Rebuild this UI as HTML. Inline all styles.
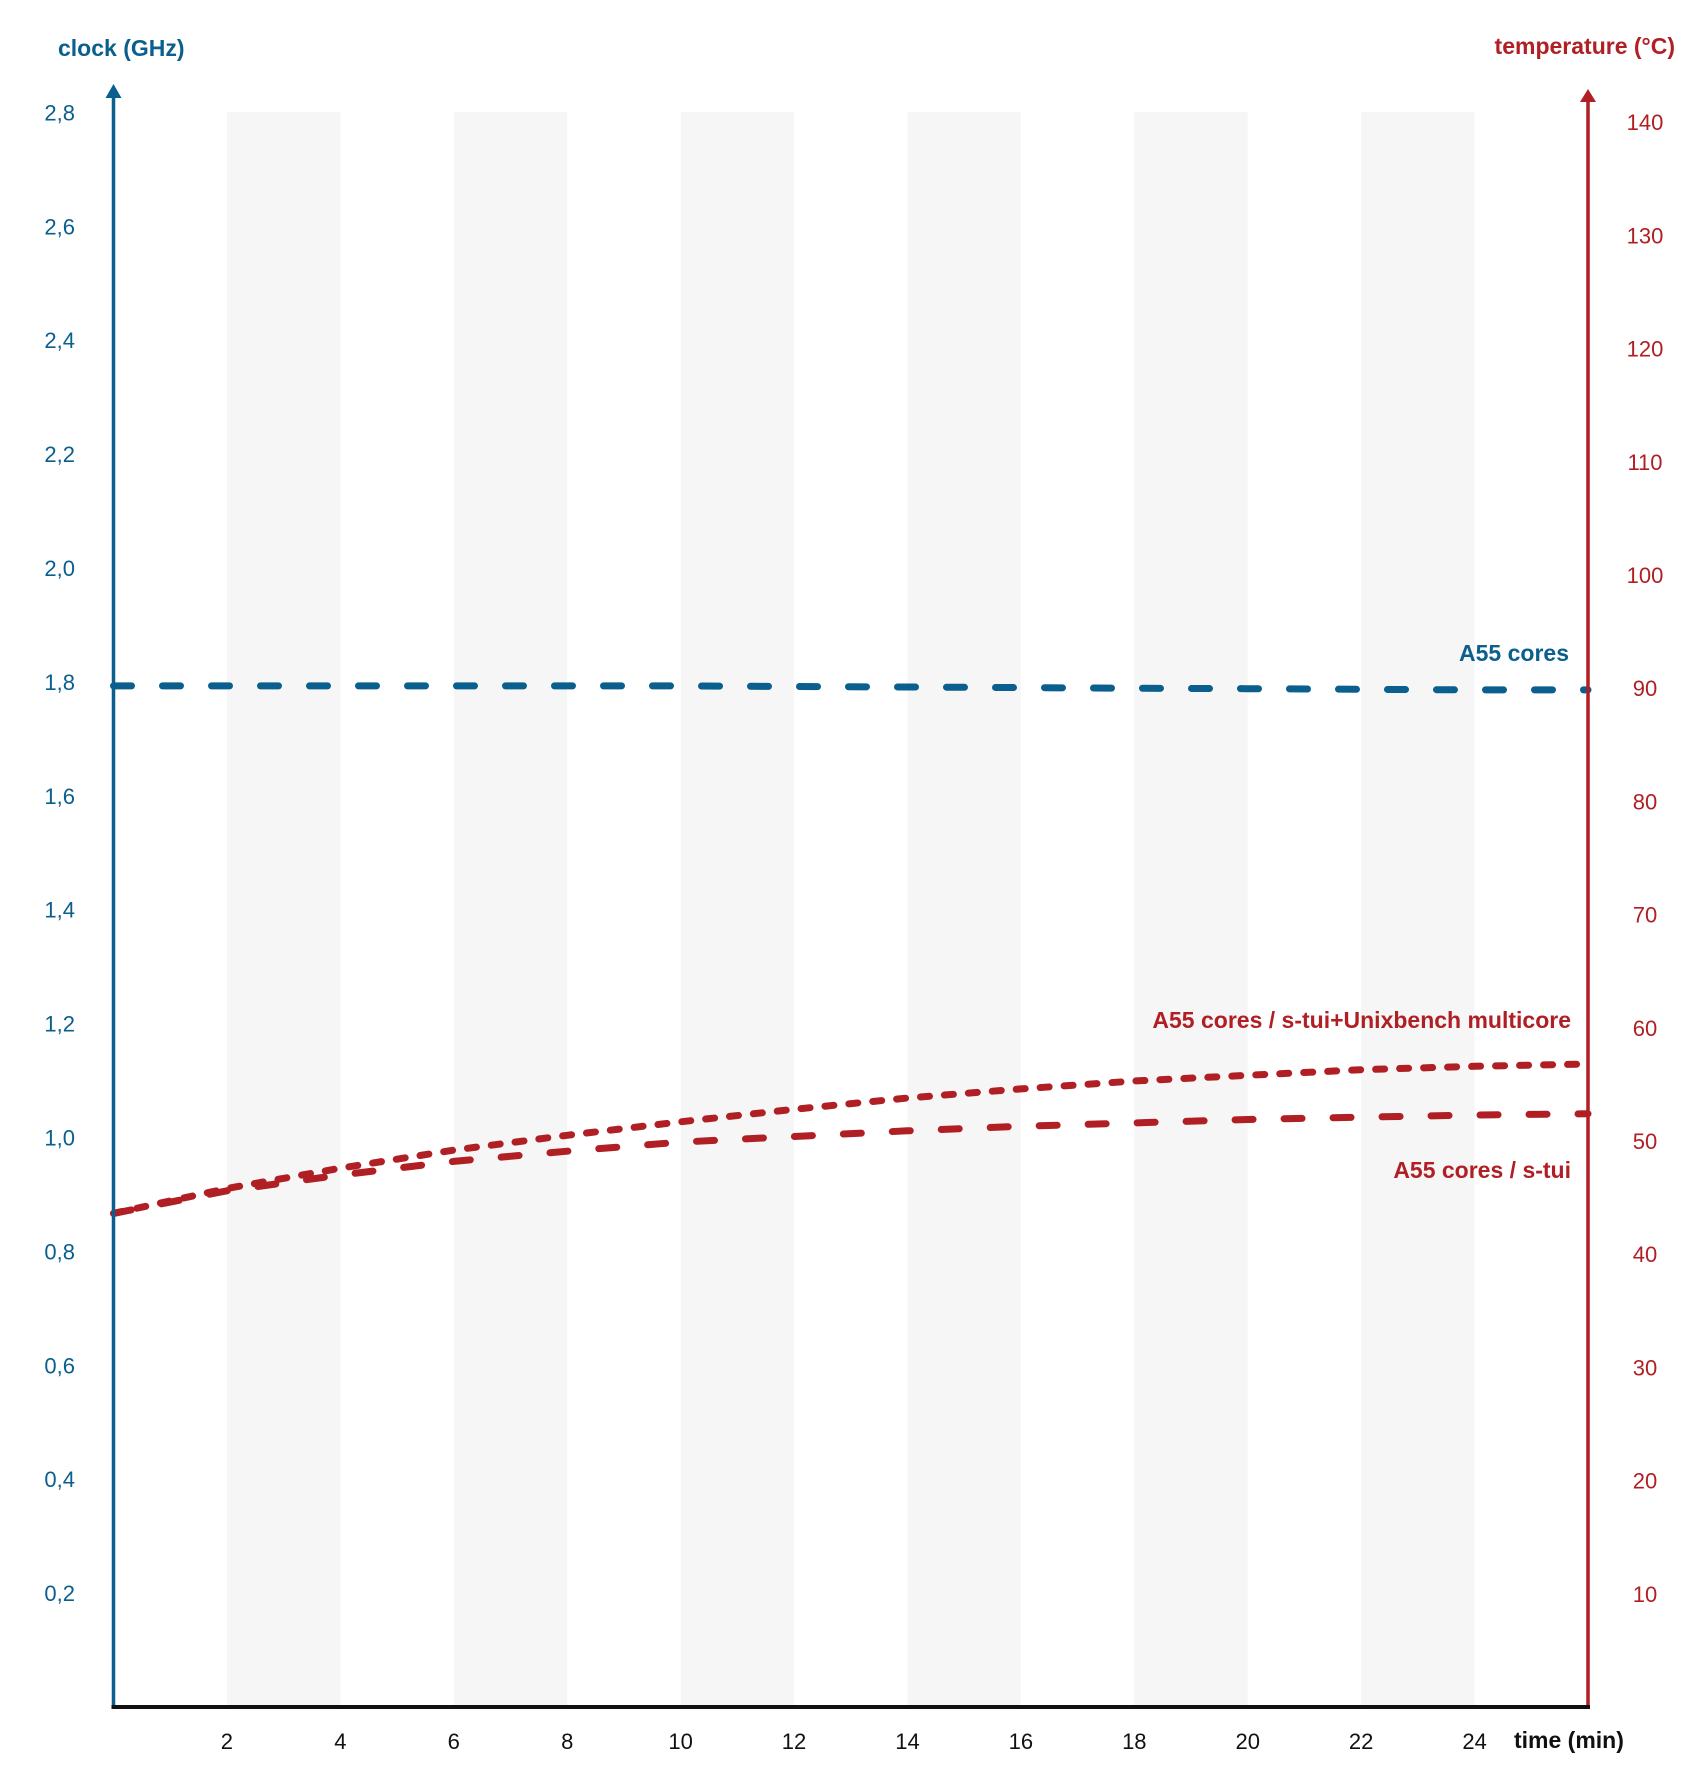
<!DOCTYPE html>
<html><head><meta charset="utf-8"><style>
html,body{margin:0;padding:0;background:#fff;}
svg{display:block;font-family:"Liberation Sans",sans-serif;}
</style></head><body>
<svg id="chart" width="1706" height="1769" viewBox="0 0 1706 1769" xmlns="http://www.w3.org/2000/svg">
<g id="bands"></g>
<g id="lines"></g>
<g id="axes"></g>
<g id="labels"></g>
</svg>
<script>
const xTicks = [2,4,6,8,10,12,14,16,18,20,22,24];
const clockTicks = [0.2,0.4,0.6,0.8,1.0,1.2,1.4,1.6,1.8,2.0,2.2,2.4,2.6,2.8];
const tempTicks = [10,20,30,40,50,60,70,80,90,100,110,120,130,140];
const bandStarts = [2,6,10,14,18,22];
const timeMin = [0,2,4,6,8,10,12,14,16,18,20,22,24,26];
const clockA55 = [1.793,1.793,1.793,1.793,1.793,1.793,1.792,1.791,1.790,1.789,1.788,1.787,1.786,1.786];
const tempUnix = [43.6,45.8,47.6,49.2,50.5,51.7,52.8,53.8,54.6,55.3,55.8,56.3,56.6,56.8];
const tempStui = [43.6,45.6,47.0,48.2,49.1,49.9,50.4,50.9,51.3,51.6,51.9,52.1,52.3,52.4];

const NS="http://www.w3.org/2000/svg";
const X0=113.5, X1=1588, Y0=1707;
const xs = t => X0 + t*(X1-X0)/26;
const yClock = v => Y0 - v*(113.9/0.2);
const yTemp = v => Y0 - v*(113.2/10);
const BLUE="#0a5f8e", RED="#b01f24";
function mk(tag, attrs, parent, text){const e=document.createElementNS(NS,tag);for(const k in attrs)e.setAttribute(k,attrs[k]);if(text!==undefined)e.textContent=text;parent.appendChild(e);return e;}
const bands=document.getElementById('bands'), lines=document.getElementById('lines'), axes=document.getElementById('axes'), labels=document.getElementById('labels');

bandStarts.forEach(b=>{
  const r=mk('rect',{x:xs(b),y:112,width:xs(b+2)-xs(b),height:Y0-112,fill:'#f6f6f6'},bands);
  
  
});

function path(vals, yf){return vals.map((v,i)=>(i?'L':'M')+xs(timeMin[i]).toFixed(1)+' '+yf(v).toFixed(1)).join(' ');}
const p1=mk('path',{d:path(clockA55,yClock),fill:'none',stroke:BLUE,'stroke-width':7,'stroke-dasharray':'18 31','stroke-linecap':'round'},lines);


const p2=mk('path',{d:path(tempUnix,yTemp),fill:'none',stroke:RED,'stroke-width':7,'stroke-dasharray':'9 15','stroke-linecap':'round'},lines);


const p3=mk('path',{d:path(tempStui,yTemp),fill:'none',stroke:RED,'stroke-width':7,'stroke-dasharray':'18 31','stroke-linecap':'round'},lines);



const la=mk('line',{x1:X0,y1:Y0,x2:X0,y2:92,stroke:BLUE,'stroke-width':3.5},axes);


const lh=mk('path',{d:`M${X0-8} 98 L${X0} 84 L${X0+8} 98 Z`,fill:BLUE},axes);


const ra=mk('line',{x1:X1,y1:Y0,x2:X1,y2:100,stroke:RED,'stroke-width':3.5},axes);


const rh=mk('path',{d:`M${X1-8} 102 L${X1} 89 L${X1+8} 102 Z`,fill:RED},axes);


const ba=mk('line',{x1:X0-2,y1:Y0,x2:X1+2,y2:Y0,stroke:'#111','stroke-width':4},axes);



clockTicks.forEach(v=>{
  const t=mk('text',{x:75,y:yClock(v)+8,'text-anchor':'end','font-size':22,fill:BLUE},labels,v.toFixed(1).replace('.',','));
  
  
});
tempTicks.forEach(v=>{
  const t=mk('text',{x:1645,y:yTemp(v)+8,'text-anchor':'middle','font-size':22,fill:RED},labels,String(v));
  
  
});
xTicks.forEach(v=>{
  const t=mk('text',{x:xs(v),y:1749,'text-anchor':'middle','font-size':22,fill:'#111'},labels,String(v));
  
  
});
function lbl(txt,x,y,anchor,fill,name){const t=mk('text',{x:x,y:y,'text-anchor':anchor,'font-size':23,'font-weight':'bold',fill:fill},labels,txt);}
lbl('clock (GHz)',58,56,'start',BLUE,'left-axis-title');
lbl('temperature (°C)',1675,54,'end',RED,'right-axis-title');
lbl('time (min)',1514,1748,'start','#111','x-axis-title');
lbl('A55 cores',1569,661,'end',BLUE,'a55-clock-label');
lbl('A55 cores / s-tui+Unixbench multicore',1571,1028,'end',RED,'a55-unixbench-label');
lbl('A55 cores / s-tui',1571,1178,'end',RED,'a55-stui-label');
</script>
</body></html>
